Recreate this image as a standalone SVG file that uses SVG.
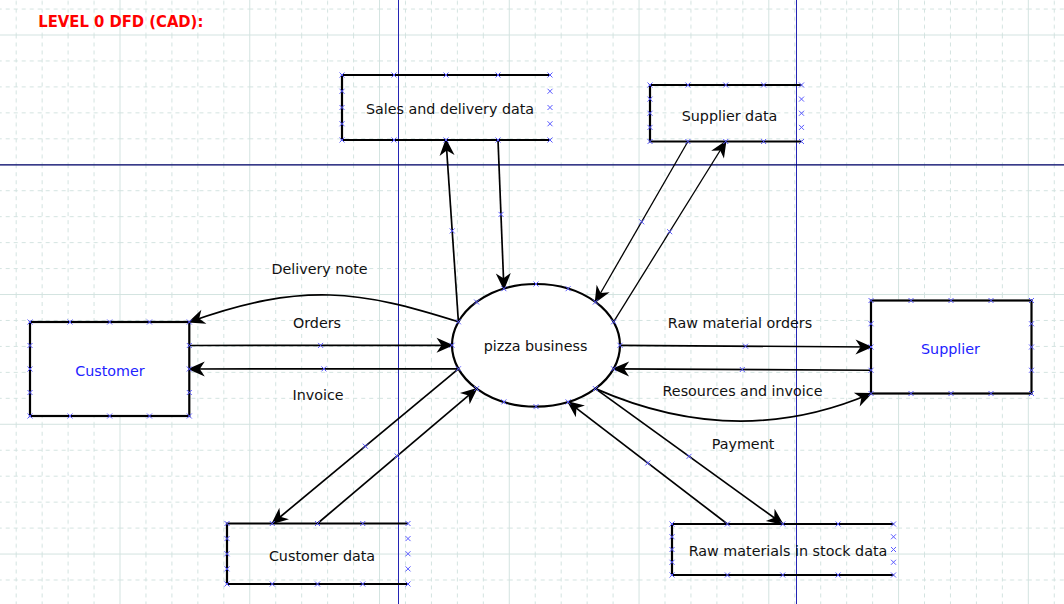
<svg xmlns="http://www.w3.org/2000/svg" xmlns:xlink="http://www.w3.org/1999/xlink" width="1064" height="604" viewBox="0 0 1064 604">
<style>
.gmaj{stroke:#d3e3e0;stroke-width:1}
.gmin{stroke:#d3e3e0;stroke-width:1;stroke-dasharray:4 4}
.store{fill:none;stroke:#000;stroke-width:2.2}
.ent{fill:#fff;stroke:#000;stroke-width:2.2}
.conn{fill:none;stroke:#000;stroke-width:1.7;marker-end:url(#arr)}
.thin{stroke-width:1.3}
.lbl{font-family:"DejaVu Sans","Liberation Sans",sans-serif;font-size:14.3px;fill:#111;text-anchor:middle}
.blue{fill:#2222ff}
.xm{fill:none;stroke:#5a5aff;stroke-width:1}
</style>
<defs>
<pattern id="grid" patternUnits="userSpaceOnUse" x="119.5" y="34.5" width="129.76" height="129.76">
<line class="gmaj" x1="0.5" y1="0" x2="0.5" y2="129.76"/>
<line class="gmaj" x1="0" y1="0.5" x2="129.76" y2="0.5"/>
<line class="gmin" x1="26.45" y1="0" x2="26.45" y2="129.76"/>
<line class="gmin" x1="52.4" y1="0" x2="52.4" y2="129.76"/>
<line class="gmin" x1="78.36" y1="0" x2="78.36" y2="129.76"/>
<line class="gmin" x1="104.31" y1="0" x2="104.31" y2="129.76"/>
<line class="gmin" x1="0" y1="26.45" x2="129.76" y2="26.45"/>
<line class="gmin" x1="0" y1="52.4" x2="129.76" y2="52.4"/>
<line class="gmin" x1="0" y1="78.36" x2="129.76" y2="78.36"/>
<line class="gmin" x1="0" y1="104.31" x2="129.76" y2="104.31"/>
</pattern>
<marker id="arr" markerUnits="userSpaceOnUse" viewBox="-19 -10 21 20" markerWidth="21" markerHeight="20" refX="-1.5" refY="0" orient="auto">
<path d="M0,0 L-17,-7.5 L-12,0 L-17,7.5 Z" fill="#000"/>
</marker>
<path id="x" class="xm" d="M-2.5,-2.5 L2.5,2.5 M-2.5,2.5 L2.5,-2.5"/>
</defs>

<rect width="1064" height="604" fill="#fff"/>
<rect width="1064" height="604" fill="url(#grid)"/>
<g id="guides">
<line x1="398.5" y1="0" x2="398.5" y2="604" stroke="#2424b4" stroke-width="1"/>
<line x1="796.5" y1="0" x2="796.5" y2="604" stroke="#2424b4" stroke-width="1"/>
<line x1="0" y1="164.8" x2="1064" y2="164.8" stroke="#00006a" stroke-width="1.3"/>
</g>

<text x="38.3" y="26.5" font-family="'DejaVu Sans','Liberation Sans',sans-serif" font-size="15" font-weight="bold" fill="#ff0000" textLength="165" lengthAdjust="spacingAndGlyphs">LEVEL 0 DFD (CAD):</text>

<g id="connectors">
<path class="conn" d="M498,140 L503.9,288.7"/>
<path class="conn" d="M458.4,321.8 L446,140"/>
<path class="conn thin" d="M687.9,141.5 L595.4,302"/>
<path class="conn thin" d="M613.6,321.8 L725.75,141.5"/>
<path class="conn" d="M458.4,321.8 C361.2,291 302.9,281.1 189.3,322"/>
<path class="conn" d="M189.3,345.5 L452,345.3"/>
<path class="conn" d="M458.4,368.8 L189.3,369"/>
<path class="conn" d="M458.4,368.8 L272.25,523.5"/>
<path class="conn" d="M317.5,523.5 L476.6,388.6"/>
<path class="conn" d="M620,345.3 L871,347"/>
<path class="conn" d="M871,370.25 L613.6,368.8"/>
<path class="conn" d="M595.4,388.6 Q737,451 871,393.5"/>
<path class="conn" d="M595.4,388.6 L782.75,524"/>
<path class="conn" d="M727.4,524 L568.1,401.9"/>
<text class="lbl" x="319.5" y="274">Delivery note</text>
<text class="lbl" x="317" y="328">Orders</text>
<text class="lbl" x="318" y="400">Invoice</text>
<text class="lbl" x="740" y="328">Raw material orders</text>
<text class="lbl" x="742.5" y="396">Resources and invoice</text>
<text class="lbl" x="743" y="449">Payment</text>
<g id="conn-marks">
<use href="#x" x="501" y="214.4"/><use href="#x" x="452.2" y="230.9"/>
<use href="#x" x="641.7" y="221.8"/><use href="#x" x="669.7" y="231.7"/>
<use href="#x" x="320.6" y="345.4"/><use href="#x" x="323.9" y="368.9"/>
<use href="#x" x="365.3" y="446.2"/><use href="#x" x="397.1" y="456"/>
<use href="#x" x="745.5" y="346.2"/><use href="#x" x="742.3" y="369.5"/>
<use href="#x" x="689.1" y="456.3"/><use href="#x" x="647.8" y="463"/>
</g>
</g>

<g id="sales-data">
<path class="store" d="M550,75 H342 V140 H550"/>
<text class="lbl" x="450" y="114">Sales and delivery data</text>
<g>
<use href="#x" x="342" y="75"/><use href="#x" x="394" y="75"/><use href="#x" x="446" y="75"/><use href="#x" x="498" y="75"/><use href="#x" x="550" y="75"/>
<use href="#x" x="342" y="140"/><use href="#x" x="394" y="140"/><use href="#x" x="446" y="140"/><use href="#x" x="498" y="140"/><use href="#x" x="550" y="140"/>
<use href="#x" x="342" y="91.25"/><use href="#x" x="342" y="107.5"/><use href="#x" x="342" y="123.75"/>
<use href="#x" x="550" y="91.25"/><use href="#x" x="550" y="107.5"/><use href="#x" x="550" y="123.75"/>
</g>
</g>

<g id="supplier-data">
<path class="store" d="M801.5,85 H650 V141.5 H801.5"/>
<text class="lbl" x="729.5" y="121">Supplier data</text>
<g>
<use href="#x" x="650" y="85"/><use href="#x" x="687.9" y="85"/><use href="#x" x="725.75" y="85"/><use href="#x" x="763.6" y="85"/><use href="#x" x="801.5" y="85"/>
<use href="#x" x="650" y="141.5"/><use href="#x" x="687.9" y="141.5"/><use href="#x" x="725.75" y="141.5"/><use href="#x" x="763.6" y="141.5"/><use href="#x" x="801.5" y="141.5"/>
<use href="#x" x="650" y="99.1"/><use href="#x" x="650" y="113.25"/><use href="#x" x="650" y="127.4"/>
<use href="#x" x="801.5" y="99.1"/><use href="#x" x="801.5" y="113.25"/><use href="#x" x="801.5" y="127.4"/>
</g>
</g>

<g id="customer">
<rect class="ent" x="30" y="322" width="159.3" height="94"/>
<text class="lbl blue" x="110" y="376">Customer</text>
<g>
<use href="#x" x="30" y="322"/><use href="#x" x="70" y="322"/><use href="#x" x="109.7" y="322"/><use href="#x" x="149.5" y="322"/><use href="#x" x="189.3" y="322"/>
<use href="#x" x="30" y="416"/><use href="#x" x="70" y="416"/><use href="#x" x="109.7" y="416"/><use href="#x" x="149.5" y="416"/><use href="#x" x="189.3" y="416"/>
<use href="#x" x="30" y="345.5"/><use href="#x" x="30" y="369"/><use href="#x" x="30" y="392.5"/>
<use href="#x" x="189.3" y="345.5"/><use href="#x" x="189.3" y="369"/><use href="#x" x="189.3" y="392.5"/>
</g>
</g>

<g id="supplier">
<rect class="ent" x="871" y="300.5" width="160.5" height="93"/>
<text class="lbl blue" x="950.5" y="354">Supplier</text>
<g>
<use href="#x" x="871" y="300.5"/><use href="#x" x="911" y="300.5"/><use href="#x" x="951" y="300.5"/><use href="#x" x="991" y="300.5"/><use href="#x" x="1031.5" y="300.5"/>
<use href="#x" x="871" y="393.5"/><use href="#x" x="911" y="393.5"/><use href="#x" x="951" y="393.5"/><use href="#x" x="991" y="393.5"/><use href="#x" x="1031.5" y="393.5"/>
<use href="#x" x="871" y="323.75"/><use href="#x" x="871" y="347"/><use href="#x" x="871" y="370.25"/>
<use href="#x" x="1031.5" y="323.75"/><use href="#x" x="1031.5" y="347"/><use href="#x" x="1031.5" y="370.25"/>
</g>
</g>

<g id="customer-data">
<path class="store" d="M408,523.5 H227 V584 H408"/>
<text class="lbl" x="322" y="561">Customer data</text>
<g>
<use href="#x" x="227" y="523.5"/><use href="#x" x="272.25" y="523.5"/><use href="#x" x="317.5" y="523.5"/><use href="#x" x="362.75" y="523.5"/><use href="#x" x="408" y="523.5"/>
<use href="#x" x="227" y="584"/><use href="#x" x="272.25" y="584"/><use href="#x" x="317.5" y="584"/><use href="#x" x="362.75" y="584"/><use href="#x" x="408" y="584"/>
<use href="#x" x="227" y="538.6"/><use href="#x" x="227" y="553.75"/><use href="#x" x="227" y="568.9"/>
<use href="#x" x="408" y="538.6"/><use href="#x" x="408" y="553.75"/><use href="#x" x="408" y="568.9"/>
</g>
</g>

<g id="raw-materials-data">
<path class="store" d="M893.5,524 H672 V575 H893.5"/>
<text class="lbl" x="788" y="556">Raw materials in stock data</text>
<g>
<use href="#x" x="672" y="524"/><use href="#x" x="727.4" y="524"/><use href="#x" x="782.75" y="524"/><use href="#x" x="838.1" y="524"/><use href="#x" x="893.5" y="524"/>
<use href="#x" x="672" y="575"/><use href="#x" x="727.4" y="575"/><use href="#x" x="782.75" y="575"/><use href="#x" x="838.1" y="575"/><use href="#x" x="893.5" y="575"/>
<use href="#x" x="672" y="536.75"/><use href="#x" x="672" y="549.5"/><use href="#x" x="672" y="562.25"/>
<use href="#x" x="893.5" y="536.75"/><use href="#x" x="893.5" y="549.5"/><use href="#x" x="893.5" y="562.25"/>
</g>
</g>

<g id="pizza-business">
<ellipse class="ent" cx="536" cy="345.3" rx="84" ry="61.3"/>
<text class="lbl" x="535.5" y="351">pizza business</text>
<g>
<use href="#x" x="620" y="345.3"/><use href="#x" x="613.6" y="321.8"/><use href="#x" x="595.4" y="302"/><use href="#x" x="568.1" y="288.7"/>
<use href="#x" x="536" y="284"/><use href="#x" x="503.9" y="288.7"/><use href="#x" x="476.6" y="302"/><use href="#x" x="458.4" y="321.8"/>
<use href="#x" x="452" y="345.3"/><use href="#x" x="458.4" y="368.8"/><use href="#x" x="476.6" y="388.6"/><use href="#x" x="503.9" y="401.9"/>
<use href="#x" x="536" y="406.6"/><use href="#x" x="568.1" y="401.9"/><use href="#x" x="595.4" y="388.6"/><use href="#x" x="613.6" y="368.8"/>
</g>
</g>
</svg>
